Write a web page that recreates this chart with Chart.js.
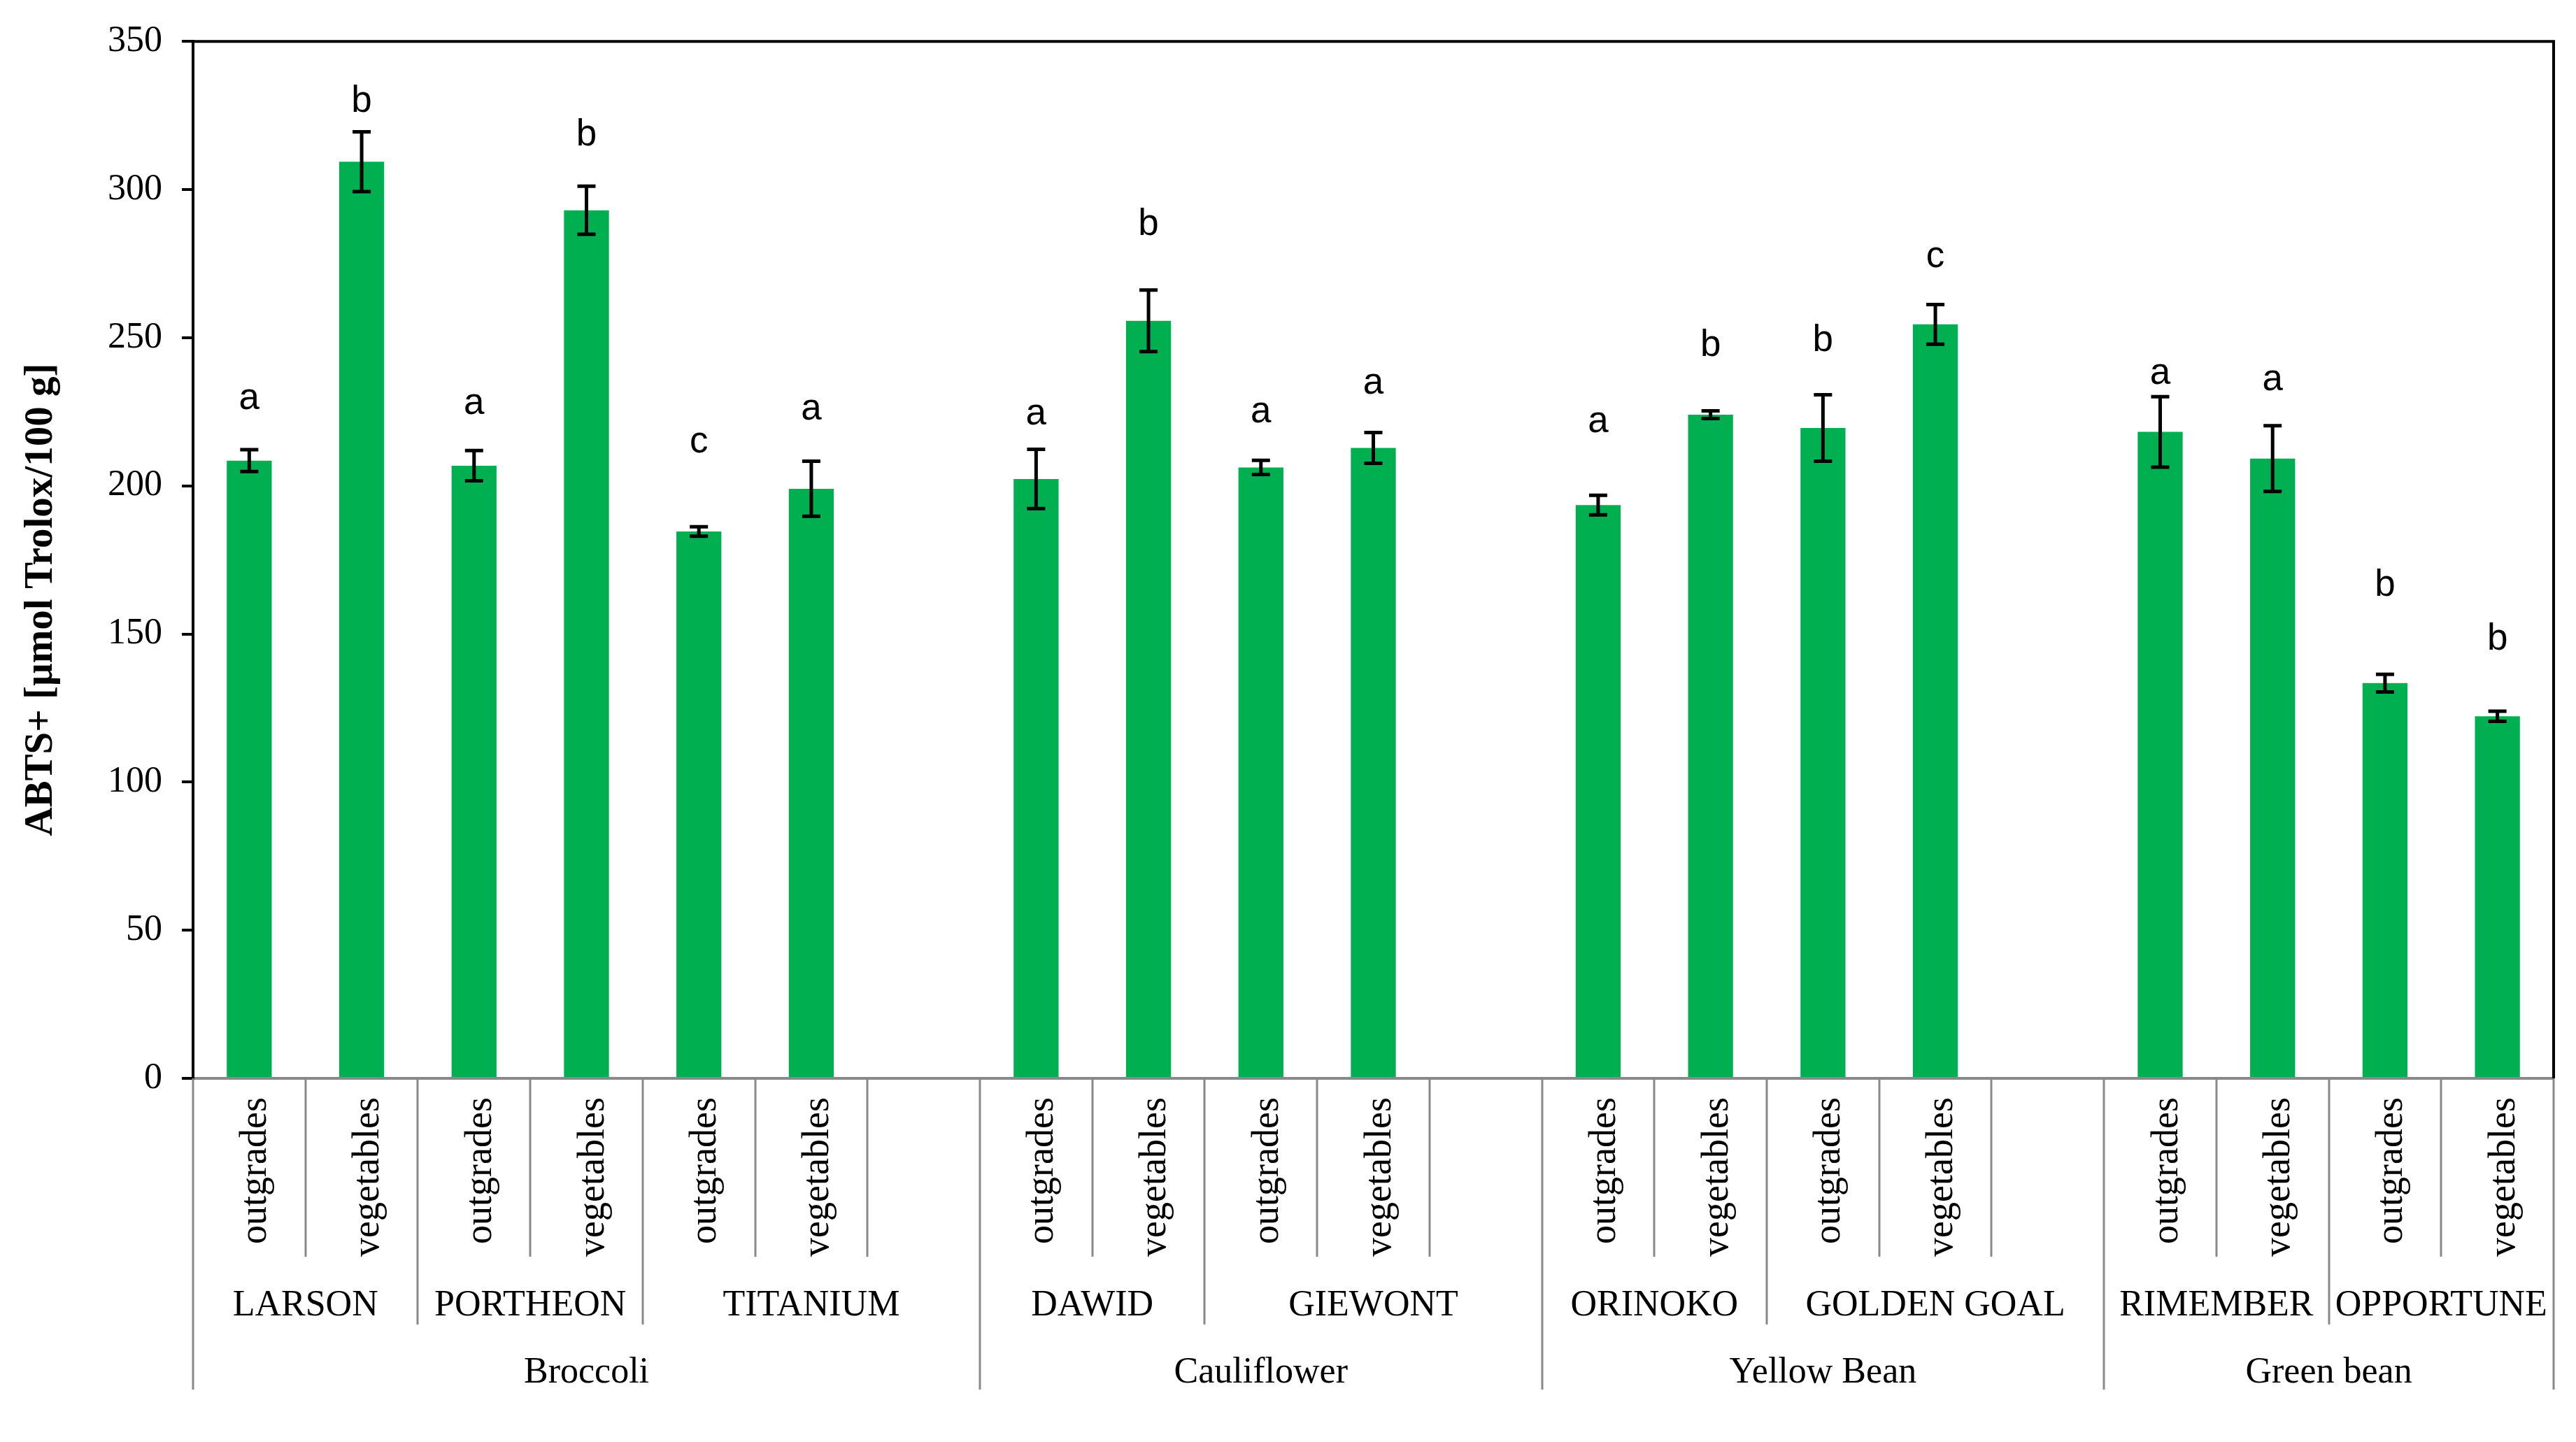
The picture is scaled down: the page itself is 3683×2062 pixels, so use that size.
<!DOCTYPE html>
<html>
<head>
<meta charset="utf-8">
<script src="https://cdn.jsdelivr.net/npm/chart.js@4.4.1/dist/chart.umd.min.js"></script>
<style>
html,body{margin:0;padding:0;background:#fff;}
#wrap{width:3683px;height:2062px;position:relative;}
</style>
</head>
<body>
<div id="wrap"><canvas id="c" width="3683" height="2062"></canvas></div>
<script>
// ---------- DATA ----------
const productType = ['outgrades','vegetables','outgrades','vegetables','outgrades','vegetables','',
                     'outgrades','vegetables','outgrades','vegetables','',
                     'outgrades','vegetables','outgrades','vegetables','',
                     'outgrades','vegetables','outgrades','vegetables'];
const cultivar = ['LARSON','LARSON','PORTHEON','PORTHEON','TITANIUM','TITANIUM','TITANIUM',
                  'DAWID','DAWID','GIEWONT','GIEWONT','GIEWONT',
                  'ORINOKO','ORINOKO','GOLDEN GOAL','GOLDEN GOAL','GOLDEN GOAL',
                  'RIMEMBER','RIMEMBER','OPPORTUNE','OPPORTUNE'];
const species = ['Broccoli','Broccoli','Broccoli','Broccoli','Broccoli','Broccoli','Broccoli',
                 'Cauliflower','Cauliflower','Cauliflower','Cauliflower','Cauliflower',
                 'Yellow Bean','Yellow Bean','Yellow Bean','Yellow Bean','Yellow Bean',
                 'Green bean','Green bean','Green bean','Green bean'];
const abtsValues = [208.5, 309.4, 206.8, 293.0, 184.6, 199.0, null,
                    202.3, 255.7, 206.2, 212.8, null,
                    193.5, 224.0, 219.5, 254.5, null,
                    218.2, 209.2, 133.4, 122.2];
const abtsErrors = [3.7, 10.1, 5.1, 8.1, 1.6, 9.3, null,
                    10.0, 10.4, 2.4, 5.2, null,
                    3.3, 1.3, 11.2, 6.7, null,
                    11.9, 11.1, 3.0, 1.7];
const letters = ['a','b','a','b','c','a','',
                 'a','b','a','a','',
                 'a','b','b','c','',
                 'a','a','b','b'];
const letterLevels = [225.8, 326.1, 224.2, 314.8, 211.3, 222.4, null,
                      220.7, 284.6, 221.5, 231.0, null,
                      218.0, 243.8, 245.4, 273.9, null,
                      234.3, 232.2, 162.8, 144.8];
const yTickValues = [0, 50, 100, 150, 200, 250, 300, 350];
const yTitle = 'ABTS+ [µmol Trolox/100 g]';

// ---------- PLUGINS ----------
const whiteBg = {
  id: 'whiteBg',
  beforeDraw(chart) {
    const ctx = chart.ctx;
    ctx.save(); ctx.fillStyle = '#fff'; ctx.fillRect(0, 0, chart.width, chart.height); ctx.restore();
  }
};

const frame = {
  id: 'frame',
  afterDraw(chart) {
    const ctx = chart.ctx, a = chart.chartArea;
    ctx.save();
    ctx.strokeStyle = '#000'; ctx.lineWidth = 4;
    ctx.beginPath();
    ctx.moveTo(a.left, a.top); ctx.lineTo(a.right, a.top); ctx.lineTo(a.right, a.bottom);
    ctx.stroke();
    ctx.restore();
  }
};

const errorBars = {
  id: 'errorBars',
  afterDatasetsDraw(chart) {
    const ctx = chart.ctx, ys = chart.scales.y;
    const meta = chart.getDatasetMeta(0);
    ctx.save();
    ctx.strokeStyle = '#000'; ctx.lineWidth = 5; ctx.lineCap = 'butt';
    meta.data.forEach((bar, i) => {
      const v = abtsValues[i], e = abtsErrors[i];
      if (v == null || e == null) return;
      const x = bar.x;
      const yt = ys.getPixelForValue(v + e), yb = ys.getPixelForValue(v - e);
      ctx.beginPath();
      ctx.moveTo(x, yt); ctx.lineTo(x, yb);
      ctx.moveTo(x - 13, yt); ctx.lineTo(x + 13, yt);
      ctx.moveTo(x - 13, yb); ctx.lineTo(x + 13, yb);
      ctx.stroke();
    });
    // significance letters
    ctx.fillStyle = '#000';
    ctx.font = '53px "Liberation Sans Narrow", "Liberation Sans", sans-serif';
    ctx.textAlign = 'center'; ctx.textBaseline = 'alphabetic';
    meta.data.forEach((bar, i) => {
      if (!letters[i] || letterLevels[i] == null) return;
      ctx.fillText(letters[i], bar.x, ys.getPixelForValue(letterLevels[i]));
    });
    ctx.restore();
  }
};

function runs(arr) {
  const out = [];
  arr.forEach((v, i) => {
    if (out.length && out[out.length - 1].label === v) out[out.length - 1].end = i;
    else out.push({ label: v, start: i, end: i });
  });
  return out;
}

const multiLevelAxis = {
  id: 'multiLevelAxis',
  afterDraw(chart) {
    const ctx = chart.ctx, xs = chart.scales.x, a = chart.chartArea;
    const n = productType.length;
    const centers = productType.map((_, i) => xs.getPixelForValue(i));
    const bounds = [a.left];
    for (let i = 0; i < n - 1; i++) bounds.push((centers[i] + centers[i + 1]) / 2);
    bounds.push(a.right);
    const y0 = a.bottom;
    const lvlBottom = [y0 + 255, y0 + 352, y0 + 445];
    ctx.save();
    ctx.strokeStyle = '#898989'; ctx.lineWidth = 3;
    for (let b = 0; b <= n; b++) {
      let lvl;
      if (b === 0 || b === n || species[b - 1] !== species[b]) lvl = 2;
      else if (cultivar[b - 1] !== cultivar[b]) lvl = 1;
      else lvl = 0;
      const x = Math.round(bounds[b]);
      ctx.beginPath(); ctx.moveTo(x, y0); ctx.lineTo(x, lvlBottom[lvl]); ctx.stroke();
    }
    ctx.fillStyle = '#000';
    // level 1: rotated product type
    ctx.font = '54px "Liberation Serif", "Times New Roman", serif';
    productType.forEach((t, i) => {
      if (!t) return;
      ctx.save();
      ctx.translate(centers[i] + 24, y0 + 27);
      ctx.rotate(-Math.PI / 2);
      ctx.textAlign = 'right'; ctx.textBaseline = 'alphabetic';
      ctx.fillText(t, 0, 0);
      ctx.restore();
    });
    // level 2: cultivar
    ctx.font = '52px "Liberation Serif", "Times New Roman", serif';
    ctx.textAlign = 'center'; ctx.textBaseline = 'alphabetic';
    runs(cultivar).forEach(r => {
      const cx = (bounds[r.start] + bounds[r.end + 1]) / 2;
      ctx.fillText(r.label, cx, y0 + 339);
    });
    // level 3: species
    runs(species).forEach(r => {
      const cx = (bounds[r.start] + bounds[r.end + 1]) / 2;
      ctx.fillText(r.label, cx, y0 + 435);
    });
    // y axis title
    ctx.save();
    ctx.font = 'bold 57px "Liberation Serif", "Times New Roman", serif';
    ctx.translate(74, (a.top + a.bottom) / 2 + 57);
    ctx.rotate(-Math.PI / 2);
    ctx.textAlign = 'center'; ctx.textBaseline = 'alphabetic';
    ctx.fillText(yTitle, 0, 0);
    ctx.restore();
    ctx.restore();
  }
};

// ---------- CHART ----------
new Chart(document.getElementById('c'), {
  type: 'bar',
  data: {
    labels: productType,
    datasets: [{
      data: abtsValues,
      backgroundColor: '#00B050',
      borderWidth: 0,
      barPercentage: 0.4,
      categoryPercentage: 1.0
    }]
  },
  options: {
    responsive: false,
    devicePixelRatio: 1,
    animation: false,
    events: [],
    layout: { padding: { left: 0, right: 32, top: 54, bottom: 0 } },
    plugins: { legend: { display: false }, tooltip: { enabled: false }, title: { display: false } },
    scales: {
      x: {
        type: 'category',
        offset: true,
        grid: { display: false },
        ticks: { display: false },
        border: { display: true, color: '#898989', width: 4 },
        afterFit(s) { s.height = 520; }
      },
      y: {
        min: 0, max: 350,
        afterBuildTicks(s) { s.ticks = yTickValues.map(v => ({ value: v })); },
        ticks: {
          color: '#000',
          padding: 28,
          font: { family: '"Liberation Serif", "Times New Roman", serif', size: 52 }
        },
        grid: { display: true, drawOnChartArea: false, drawTicks: true, tickLength: 16, tickColor: '#000', tickWidth: 4, lineWidth: 4 },
        border: { display: true, color: '#000', width: 4 },
        afterFit(s) { s.width = 276; }
      }
    }
  },
  plugins: [whiteBg, errorBars, multiLevelAxis, frame]
});
</script>
</body>
</html>
